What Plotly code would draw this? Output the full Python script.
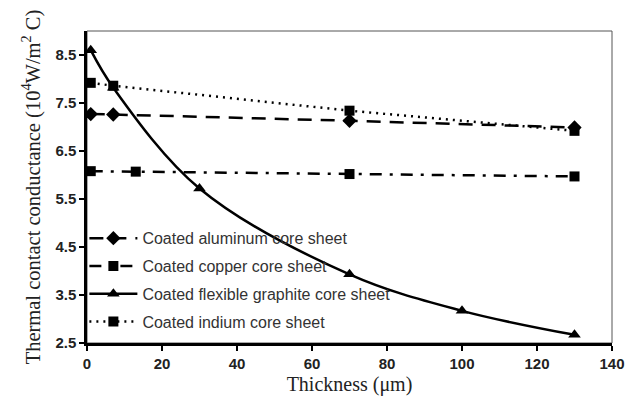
import plotly.graph_objects as go

al_x = [1, 7, 70, 130]
al_y = [7.27, 7.26, 7.13, 6.99]
cu_x = [1, 13, 70, 130]
cu_y = [6.08, 6.07, 6.02, 5.97]
gr_x = [1, 7, 30, 70, 100, 130]
gr_y = [8.6, 7.82, 5.72, 3.93, 3.17, 2.67]
in_x = [1, 7, 70, 130]
in_y = [7.92, 7.86, 7.34, 6.92]

names = ["Coated aluminum core sheet", "Coated copper core sheet",
         "Coated flexible graphite core sheet", "Coated indium core sheet"]

fig = go.Figure()
fig.add_trace(go.Scatter(x=al_x, y=al_y, name=names[0], legendgroup="a", mode="lines+markers",
                         line=dict(color="black", width=2.5, dash="14px,9px"),
                         marker=dict(symbol="diamond", size=11, color="black")))
fig.add_trace(go.Scatter(x=cu_x, y=cu_y, name=names[1], legendgroup="b", mode="lines+markers",
                         line=dict(color="black", width=2.5, dash="12px,8px,3px,8px"),
                         marker=dict(symbol="square", size=10, color="black")))
fig.add_trace(go.Scatter(x=gr_x, y=gr_y, name=names[2], legendgroup="c", mode="lines+markers",
                         line=dict(color="black", width=2.5, shape="spline", smoothing=1.0),
                         marker=dict(symbol="triangle-up", size=11, color="black")))
fig.add_trace(go.Scatter(x=in_x, y=in_y, name=names[3], legendgroup="d", mode="lines+markers",
                         line=dict(color="black", width=2.5, dash="2px,5px"),
                         marker=dict(symbol="square", size=10, color="black")))

fig.add_shape(type="rect", xref="paper", yref="paper", x0=0, y0=0, x1=1, y1=1,
              line=dict(color="#555555", width=1), layer="below")

fig.update_layout(
    width=639, height=405,
    margin=dict(l=87, r=27, t=31, b=62),
    paper_bgcolor="white", plot_bgcolor="white",
    showlegend=True,
    legend=dict(x=-0.005, y=0.39, xanchor="left", yanchor="top",
                bgcolor="rgba(0,0,0,0)", font=dict(family="Liberation Sans, Arial", size=16, color="#333"),
                tracegroupgap=4, itemwidth=48),
    xaxis=dict(range=[0, 140], tickvals=[0, 20, 40, 60, 80, 100, 120, 140],
               showgrid=False, zeroline=False, showline=True, linecolor="black", linewidth=2.5,
               ticks="outside", ticklen=5, tickcolor="black", tickwidth=1.5,
               tickfont=dict(family="Liberation Sans, Arial", size=15, color="#222", weight="bold"),
               title=dict(text="Thickness (μm)", font=dict(family="Liberation Serif, Times New Roman", size=20, color="#222"), standoff=7)),
    yaxis=dict(range=[2.5, 9.0], tickvals=[2.5, 3.5, 4.5, 5.5, 6.5, 7.5, 8.5],
               ticktext=["2.5", "3.5", "4.5", "5.5", "6.5", "7.5", "8.5"],
               showgrid=False, zeroline=False, showline=True, linecolor="black", linewidth=2.5,
               ticks="outside", ticklen=5, tickcolor="black", tickwidth=1.5,
               tickfont=dict(family="Liberation Sans, Arial", size=15, color="#222", weight="bold"),
               title=dict(text="Thermal contact conductance (10<sup>4</sup>W/m<sup>2</sup> C)",
                          font=dict(family="Liberation Serif, Times New Roman", size=20.5, color="#222"), standoff=10)),
)

fig.write_html("out.html")
